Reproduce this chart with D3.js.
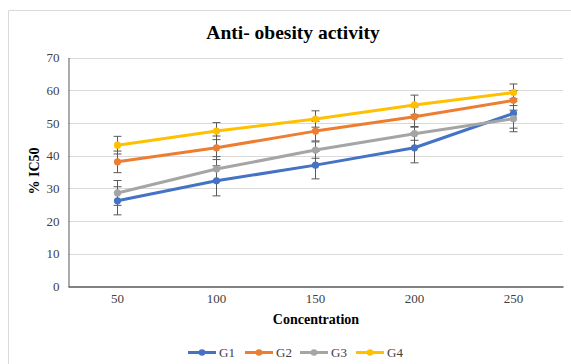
<!DOCTYPE html>
<html><head><meta charset="utf-8">
<script src="https://cdn.jsdelivr.net/npm/d3@7"></script>
<style>body{margin:0;background:#fff}svg{display:block}
svg text{font-family:"Liberation Serif","Times New Roman",Times,"DejaVu Serif",serif;}</style>
</head><body>
<script>
const categories = [50, 100, 150, 200, 250];
const seriesNames = ["G1", "G2", "G3", "G4"];
const g1 = [26.2, 32.3, 37.1, 42.4, 52.9];
const g2 = [38.1, 42.4, 47.5, 51.9, 56.9];
const g3 = [28.6, 35.9, 41.7, 46.7, 51.3];
const g4 = [43.2, 47.5, 51.2, 55.5, 59.3];
const g1Err = [4.3, 4.6, 4.2, 4.6, 4.5];
const g2Err = [3.3, 3.6, 3.0, 3.0, 3.0];
const g3Err = [3.8, 3.8, 2.5, 2.0, 4.0];
const g4Err = [2.7, 2.6, 2.5, 3.0, 2.6];
const yTicks = [0, 10, 20, 30, 40, 50, 60, 70];
const colors = ["#4472C4", "#ED7D31", "#A5A5A5", "#FFC000"];

const series = [
  {name: seriesNames[0], values: g1, err: g1Err, color: colors[0]},
  {name: seriesNames[1], values: g2, err: g2Err, color: colors[1]},
  {name: seriesNames[2], values: g3, err: g3Err, color: colors[2]},
  {name: seriesNames[3], values: g4, err: g4Err, color: colors[3]}
];

const W = 571, H = 364;
const svg = d3.select("body").append("svg").attr("width", W).attr("height", H);
const font = '"Liberation Serif","Times New Roman",Times,serif';

// outer chart border
svg.append("path").attr("d", `M8.5,${H} V10.5 H${W}`).attr("fill", "none")
  .attr("stroke", "#d9d9d9").attr("stroke-width", 1);

const pLeft = 68, pRight = 563, pTop = 57.5, pBottom = 286.5;
const x = d3.scaleBand().domain(categories).range([pLeft, pRight]);
const y = d3.scaleLinear().domain([0, 70]).range([pBottom, pTop]);
const cx = d => x(d) + x.bandwidth() / 2;

// gridlines
svg.append("g").selectAll("line").data(yTicks.filter(t => t > 0)).join("line")
  .attr("x1", pLeft).attr("x2", pRight)
  .attr("y1", d => Math.round(y(d)) + 0.5).attr("y2", d => Math.round(y(d)) + 0.5)
  .attr("stroke", "#d9d9d9").attr("stroke-width", 1);

// y axis
const yAxis = svg.append("g").attr("transform", `translate(${pLeft + 0.5},0)`)
  .call(d3.axisLeft(y).tickValues(yTicks).tickSize(0).tickPadding(9));
yAxis.attr("font-family", null);
yAxis.select(".domain").attr("stroke", "#595959");
yAxis.selectAll("text").style("font-family", font).style("font-size", "13px").attr("fill", "#404040");

// x axis
const xAxis = svg.append("g").attr("transform", `translate(0,${pBottom})`)
  .call(d3.axisBottom(x).tickSize(0).tickPadding(7));
xAxis.attr("font-family", null);
xAxis.select(".domain").attr("stroke", "#595959").attr("stroke-width", 1.3);
xAxis.selectAll("text").style("font-family", font).style("font-size", "13px").attr("fill", "#404040");

// error bars
series.forEach(s => {
  const g = svg.append("g").attr("stroke", "#595959").attr("stroke-width", 1);
  categories.forEach((c, i) => {
    const xc = cx(c), v = s.values[i], e = s.err[i];
    g.append("line").attr("x1", xc).attr("x2", xc).attr("y1", y(v - e)).attr("y2", y(v + e));
    g.append("line").attr("x1", xc - 4).attr("x2", xc + 4).attr("y1", y(v - e)).attr("y2", y(v - e));
    g.append("line").attr("x1", xc - 4).attr("x2", xc + 4).attr("y1", y(v + e)).attr("y2", y(v + e));
  });
});

// lines and markers
const line = d3.line().x((d, i) => cx(categories[i])).y(d => y(d));
series.forEach(s => {
  svg.append("path").datum(s.values).attr("d", line).attr("fill", "none")
    .attr("stroke", s.color).attr("stroke-width", 3).attr("stroke-linejoin", "round");
  svg.append("g").selectAll("circle").data(s.values).join("circle")
    .attr("cx", (d, i) => cx(categories[i])).attr("cy", d => y(d)).attr("r", 3.6)
    .attr("fill", s.color);
});

// title
svg.append("text").attr("x", 293).attr("y", 39).attr("text-anchor", "middle")
  .style("font-family", font).style("font-weight", "bold").style("font-size", "19.5px")
  .attr("fill", "#000").text("Anti- obesity activity");

// axis titles
svg.append("text").attr("x", 316).attr("y", 324).attr("text-anchor", "middle")
  .style("font-family", font).style("font-weight", "bold").style("font-size", "14px")
  .attr("fill", "#000").text("Concentration");
svg.append("text").attr("transform", "translate(39,171) rotate(-90)").attr("text-anchor", "middle")
  .style("font-family", font).style("font-weight", "bold").style("font-size", "14px")
  .attr("fill", "#000").text("% IC50");

// legend
const legX = [188, 245, 300, 356];
const legY = 352.5;
series.forEach((s, i) => {
  const g = svg.append("g");
  g.append("line").attr("x1", legX[i]).attr("x2", legX[i] + 28).attr("y1", legY).attr("y2", legY)
    .attr("stroke", s.color).attr("stroke-width", 3);
  g.append("circle").attr("cx", legX[i] + 14).attr("cy", legY).attr("r", 3.3).attr("fill", s.color);
  g.append("text").attr("x", legX[i] + 31).attr("y", legY + 4.5)
    .style("font-family", font).style("font-size", "13px").attr("fill", "#404040").text(s.name);
});
</script>
</body></html>
